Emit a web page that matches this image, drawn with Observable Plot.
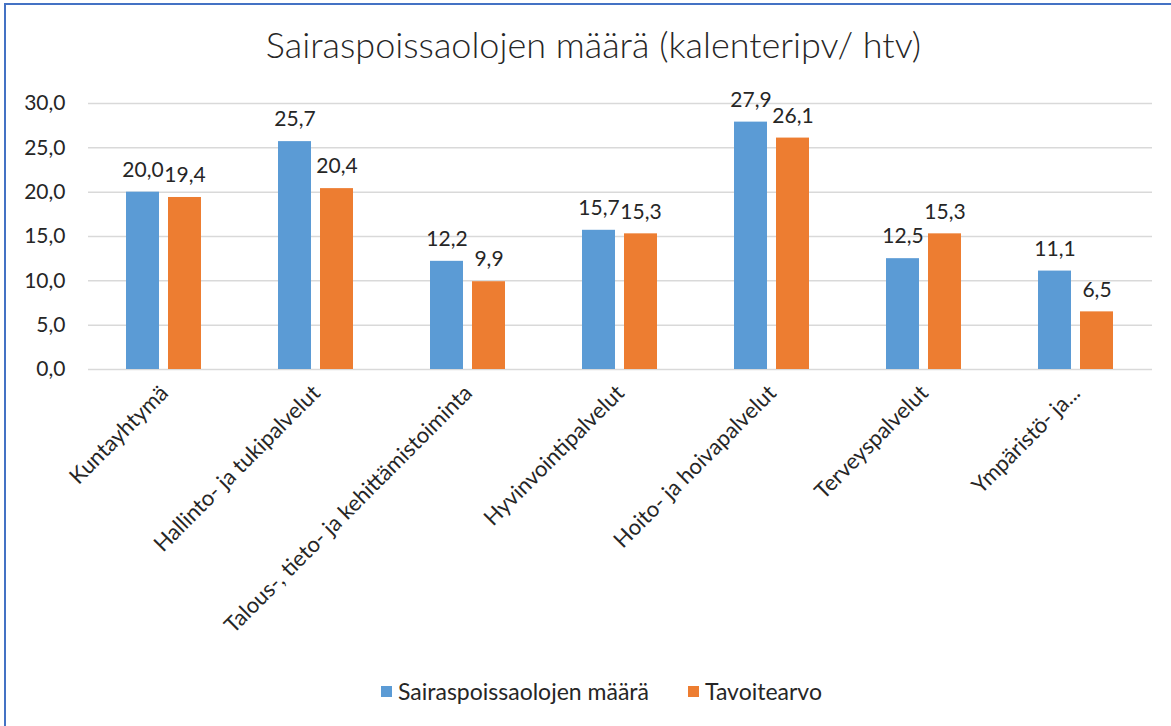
<!DOCTYPE html>
<html>
<head>
<meta charset="utf-8">
<script src="https://cdn.jsdelivr.net/npm/d3@7"></script>
<script src="https://cdn.jsdelivr.net/npm/@observablehq/plot@0.6"></script>
<style>
  html, body { margin: 0; padding: 0; background: #fff; overflow: hidden; }
  #wrap { position: relative; width: 1171px; height: 726px; font-family: Lato, "Noto Sans", sans-serif; color: #262626; }
  #frame { position: absolute; left: 4px; top: 3px; width: 2000px; height: 2000px; border: 2px solid #4472C4; box-sizing: border-box; pointer-events: none; }
  #title { position: absolute; top: 22px; left: 8px; width: 1171px; text-align: center; font-size: 36px; font-weight: 300; white-space: nowrap; }
  #chart { position: absolute; left: 0; top: 0; }
  #legend { position: absolute; top: 677px; left: 381px; display: flex; align-items: center; font-size: 23px; white-space: nowrap; }
  #legend .sw { display: inline-block; width: 11px; height: 11px; margin-right: 6px; }
  #legend .item { display: flex; align-items: center; margin-right: 39px; }
</style>
</head>
<body>
<div id="wrap">
  <div id="title">Sairaspoissaolojen määrä (kalenteripv/ htv)</div>
  <div id="chart"></div>
  <div id="legend"></div>
  <div id="frame"></div>
</div>
<script>
const categories = [
  "Kuntayhtymä",
  "Hallinto- ja tukipalvelut",
  "Talous-, tieto- ja kehittämistoiminta",
  "Hyvinvointipalvelut",
  "Hoito- ja hoivapalvelut",
  "Terveyspalvelut",
  "Ympäristö- ja..."
];
const seriesNames = ["Sairaspoissaolojen määrä", "Tavoitearvo"];
const sairaspoissaolot = [20.0, 25.7, 12.2, 15.7, 27.9, 12.5, 11.1];
const tavoitearvo = [19.4, 20.4, 9.9, 15.3, 26.1, 15.3, 6.5];
const yTicks = [0, 5, 10, 15, 20, 25, 30];
const colors = ["#5B9BD5", "#ED7D31"];

const data = categories.flatMap((c, i) => [
  {category: c, series: seriesNames[0], value: sairaspoissaolot[i]},
  {category: c, series: seriesNames[1], value: tavoitearvo[i]}
]);
const fmt = v => v.toFixed(1).replace(".", ",");

const chart = Plot.plot({
  width: 1171,
  height: 670,
  marginLeft: 87,
  marginRight: 19,
  marginTop: 103,
  marginBottom: 301,
  style: {fontFamily: "Lato, 'Noto Sans', sans-serif", fontSize: "20px", color: "#262626", background: "transparent", overflow: "visible"},
  fx: {domain: categories, padding: 0, label: null},
  x: {domain: seriesNames, axis: null, paddingInner: 0.209, paddingOuter: 0.872},
  y: {domain: [0, 30], label: null},
  color: {domain: seriesNames, range: colors},
  marks: [
    Plot.gridY(yTicks, {stroke: "#D9D9D9", strokeOpacity: 1, strokeWidth: 1.5}),
    Plot.axisY(yTicks, {tickFormat: fmt, tickSize: 0, tickPadding: 23, fontSize: 21, label: null}),
    Plot.axisFx({anchor: "bottom", tickRotate: -45, tickSize: 0, tickPadding: 20, fontSize: 22, label: null}),
    Plot.barY(data, {fx: "category", x: "series", y: "value", fill: "series"}),
    Plot.text(data, {fx: "category", x: "series", y: "value", text: d => fmt(d.value), dy: -22, fontSize: 21, fill: "#262626"})
  ]
});
document.getElementById("chart").appendChild(chart);

const legend = document.getElementById("legend");
seriesNames.forEach((s, i) => {
  const item = document.createElement("span");
  item.className = "item";
  const sw = document.createElement("span");
  sw.className = "sw";
  sw.style.background = colors[i];
  item.appendChild(sw);
  item.appendChild(document.createTextNode(s));
  legend.appendChild(item);
});
</script>
</body>
</html>
